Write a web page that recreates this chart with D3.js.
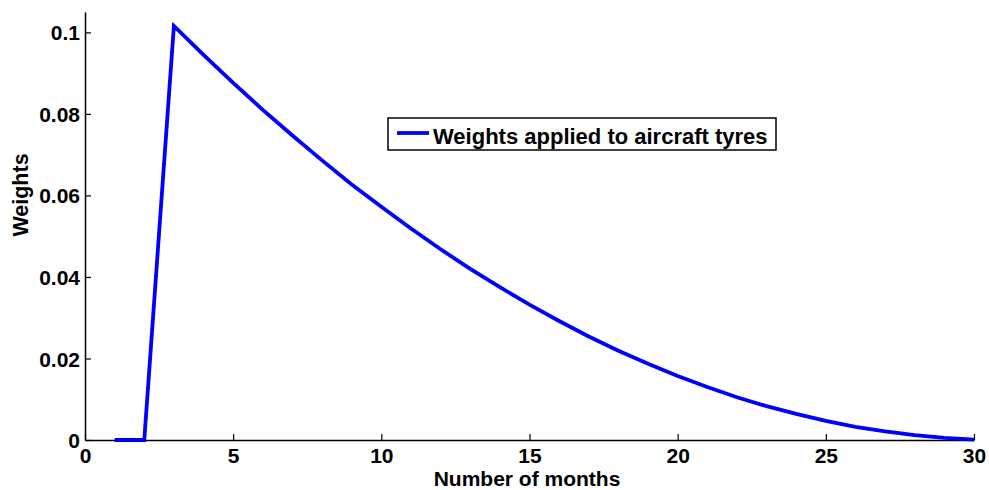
<!DOCTYPE html>
<html>
<head>
<meta charset="utf-8">
<script src="https://cdn.jsdelivr.net/npm/d3@7"></script>
<style>
  html, body { margin: 0; padding: 0; background: #fff; }
  svg { display: block; }
  text { font-family: "Liberation Sans", Arial, Helvetica, sans-serif; font-weight: bold; fill: #000; }
</style>
</head>
<body>
<svg id="chart" width="989" height="490"></svg>
<script>
// Monthly weights applied to aircraft tyres
const months = d3.range(1, 31);
const weights = [
  0, 0, 0.1016, 0.0945, 0.0876, 0.0810, 0.0747, 0.0686, 0.0627, 0.0572,
  0.0519, 0.0468, 0.0420, 0.0375, 0.0332, 0.0292, 0.0254, 0.0219, 0.0187, 0.0157,
  0.0130, 0.0105, 0.0083, 0.0064, 0.0047, 0.0032, 0.0021, 0.0012, 0.0005, 0.0001
];
const xTicks = [0, 5, 10, 15, 20, 25, 30];
const yTicks = [0, 0.02, 0.04, 0.06, 0.08, 0.1];
const seriesName = "Weights applied to aircraft tyres";

const svg = d3.select("#chart");
const plot = { left: 85, right: 974, top: 12, bottom: 440 };

const x = d3.scaleLinear().domain([0, 30]).range([plot.left, plot.right]);
const y = d3.scaleLinear().domain([0, 0.105]).range([plot.bottom, plot.top]);

// axes: ticks point inward
const xAxis = d3.axisBottom(x).tickValues(xTicks).tickSizeInner(-6).tickSizeOuter(0)
  .tickFormat(d3.format("d")).tickPadding(8);
const yAxis = d3.axisLeft(y).tickValues(yTicks).tickSizeInner(-6).tickSizeOuter(0)
  .tickFormat(d => d === 0 ? "0" : d3.format(".2~f")(d)).tickPadding(5);

const gx = svg.append("g").attr("transform", `translate(0,${plot.bottom})`).call(xAxis);
const gy = svg.append("g").attr("transform", `translate(${plot.left},0)`).call(yAxis);

[gx, gy].forEach(g => {
  g.select(".domain").attr("stroke", "#000").attr("stroke-width", 1.5);
  g.selectAll(".tick line").attr("stroke", "#000").attr("stroke-width", 1.2);
  g.selectAll(".tick text").style("font-size", "21px").style("font-family", '"Liberation Sans", Arial, sans-serif')
    .style("font-weight", "bold").attr("fill", "#000");
});
gx.selectAll(".tick text").attr("dy", "0.72em");
gy.selectAll(".tick text").attr("dy", "0.36em");

// series line
const line = d3.line().x((d, i) => x(months[i])).y(d => y(d));
svg.append("path")
  .datum(weights)
  .attr("fill", "none")
  .attr("stroke", "#0000ff")
  .attr("stroke-width", 3.8)
  .attr("stroke-linejoin", "miter")
  .attr("d", line);

// axis titles
svg.append("text")
  .attr("x", 527)
  .attr("y", 486)
  .attr("text-anchor", "middle")
  .style("font-size", "21px")
  .text("Number of months");

svg.append("text")
  .attr("transform", `translate(28,195) rotate(-90)`)
  .attr("text-anchor", "middle")
  .style("font-size", "21.5px")
  .text("Weights");

// legend
const lg = svg.append("g").attr("transform", "translate(388,118)");
lg.append("rect").attr("width", 388).attr("height", 32)
  .attr("fill", "#fff").attr("stroke", "#000").attr("stroke-width", 1.5);
lg.append("line").attr("x1", 9).attr("x2", 41).attr("y1", 15).attr("y2", 15)
  .attr("stroke", "#0000ff").attr("stroke-width", 3.8);
lg.append("text").attr("x", 45).attr("y", 26).style("font-size", "22px").text(seriesName);
</script>
</body>
</html>
